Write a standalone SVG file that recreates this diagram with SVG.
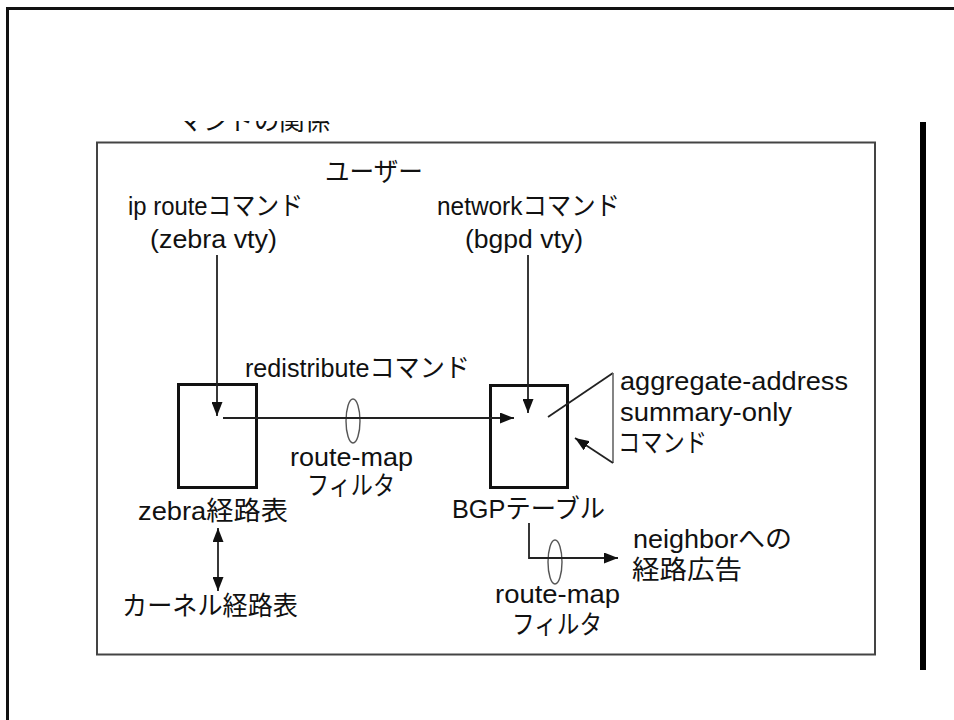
<svg xmlns="http://www.w3.org/2000/svg" width="954" height="720" viewBox="0 0 954 720">
<defs>
<style>
text{font-family:"Liberation Sans","Noto Sans CJK JP",sans-serif;font-size:26px;fill:#111}
.box{fill:none;stroke:#111;stroke-width:3}
.ln{fill:none;stroke:#222;stroke-width:1.8}
.ell{fill:none;stroke:#555;stroke-width:1.4}
</style>
<marker id="ah" viewBox="0 0 14 11" refX="14" refY="5.5" markerWidth="14" markerHeight="11" markerUnits="userSpaceOnUse" orient="auto-start-reverse">
<path d="M0,0 L14,5.5 L0,11 Z" fill="#111"/>
</marker>
<clipPath id="cut"><rect x="150" y="121" width="220" height="20"/></clipPath>
</defs>
<rect width="954" height="720" fill="#fff"/>
<path d="M7.5,720 V8.5 H954" fill="none" stroke="#111" stroke-width="3"/>
<rect x="920" y="122" width="6" height="548" fill="#000"/>
<text x="178" y="130" font-size="22" clip-path="url(#cut)" textLength="152" lengthAdjust="spacingAndGlyphs">マンドの関係</text>
<rect x="97" y="142.5" width="778" height="512" fill="none" stroke="#444" stroke-width="2"/>

<g id="user"><text x="325" y="181" textLength="98" lengthAdjust="spacingAndGlyphs">ユーザー</text></g>
<g id="iproute"><text x="128" y="215" textLength="175" lengthAdjust="spacingAndGlyphs">ip routeコマンド</text><text x="150" y="248" textLength="127" lengthAdjust="spacingAndGlyphs">(zebra vty)</text></g>
<g id="network"><text x="437" y="215" textLength="183" lengthAdjust="spacingAndGlyphs">networkコマンド</text><text x="465" y="248" textLength="118" lengthAdjust="spacingAndGlyphs">(bgpd vty)</text></g>
<g id="zebra"><rect class="box" x="178.5" y="384.5" width="78" height="103"/><text x="138" y="520" textLength="150" lengthAdjust="spacingAndGlyphs">zebra経路表</text></g>
<g id="bgp"><rect class="box" x="490.5" y="385.5" width="77" height="102"/><text x="452" y="518" textLength="153" lengthAdjust="spacingAndGlyphs">BGPテーブル</text></g>
<g id="kernel"><text x="122" y="615" textLength="176" lengthAdjust="spacingAndGlyphs">カーネル経路表</text></g>
<g id="redistribute"><text x="245" y="377" textLength="225" lengthAdjust="spacingAndGlyphs">redistributeコマンド</text></g>
<g id="filter1"><ellipse class="ell" cx="353" cy="421" rx="7" ry="22"/><text x="290" y="466" textLength="123" lengthAdjust="spacingAndGlyphs">route-map</text><text x="307" y="495" textLength="88" lengthAdjust="spacingAndGlyphs">フィルタ</text></g>
<g id="aggregate"><text x="620" y="390" textLength="228" lengthAdjust="spacingAndGlyphs">aggregate-address</text><text x="620" y="421" textLength="172" lengthAdjust="spacingAndGlyphs">summary-only</text><text x="618" y="452" textLength="89" lengthAdjust="spacingAndGlyphs">コマンド</text></g>
<g id="neighbor"><text x="633" y="548" textLength="159" lengthAdjust="spacingAndGlyphs">neighborへの</text><text x="632" y="579" textLength="110" lengthAdjust="spacingAndGlyphs">経路広告</text></g>
<g id="filter2"><ellipse class="ell" cx="555" cy="562" rx="7" ry="22"/><text x="495" y="603" textLength="125" lengthAdjust="spacingAndGlyphs">route-map</text><text x="512" y="634" textLength="90" lengthAdjust="spacingAndGlyphs">フィルタ</text></g>

<g id="connectors">
<line class="ln" x1="217" y1="255" x2="217" y2="416" marker-end="url(#ah)"/>
<line class="ln" x1="528" y1="255" x2="528" y2="413" marker-end="url(#ah)"/>
<line class="ln" x1="223" y1="418" x2="514" y2="418" marker-end="url(#ah)"/>
<polyline class="ln" points="548,417 613,373"/>
<line x1="613" y1="373" x2="613" y2="463" stroke="#666" stroke-width="1.6"/>
<line class="ln" x1="613" y1="463" x2="575" y2="438" marker-end="url(#ah)"/>
<polyline class="ln" points="529,523 529,558 618,558" marker-end="url(#ah)"/>
<line class="ln" x1="218" y1="528" x2="218" y2="591" marker-start="url(#ah)" marker-end="url(#ah)"/>
</g>
</svg>
